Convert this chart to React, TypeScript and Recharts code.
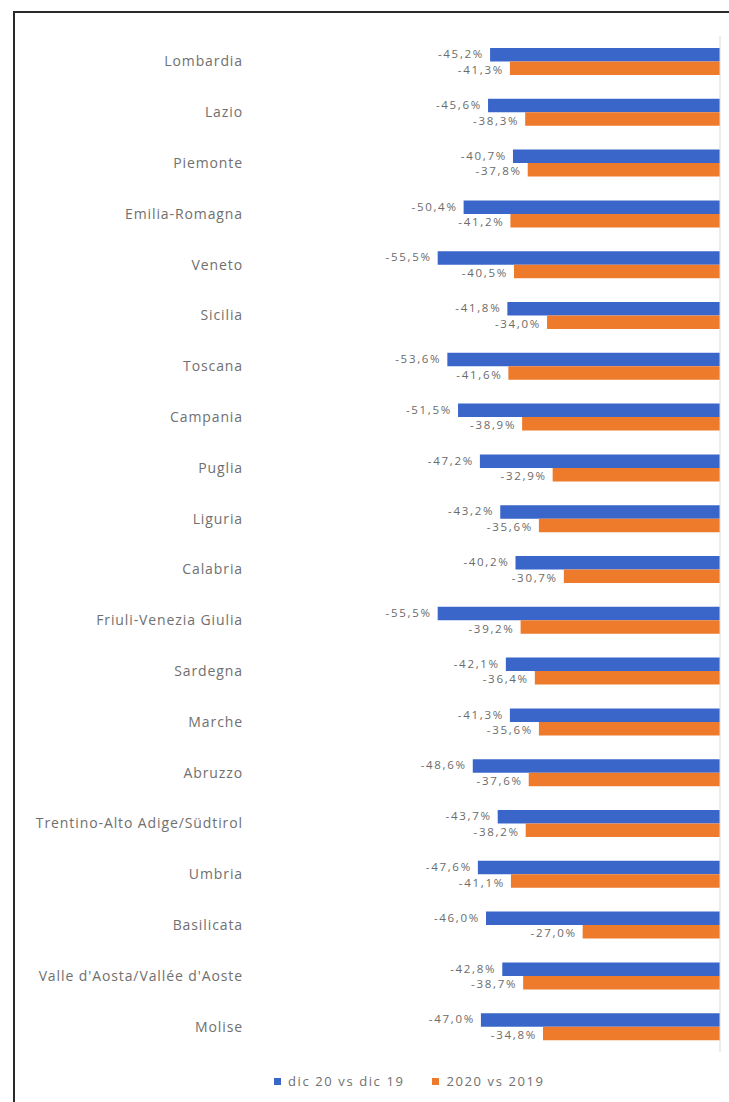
import React from "react";
import { BarChart, Bar, XAxis, YAxis, LabelList, Legend, ReferenceLine } from "recharts";

const regions = [
  "Lombardia",
  "Lazio",
  "Piemonte",
  "Emilia-Romagna",
  "Veneto",
  "Sicilia",
  "Toscana",
  "Campania",
  "Puglia",
  "Liguria",
  "Calabria",
  "Friuli-Venezia Giulia",
  "Sardegna",
  "Marche",
  "Abruzzo",
  "Trentino-Alto Adige/Südtirol",
  "Umbria",
  "Basilicata",
  "Valle d'Aosta/Vallée d'Aoste",
  "Molise",
];

const dic20vsDic19 = [
  -45.2, -45.6, -40.7, -50.4, -55.5, -41.8, -53.6, -51.5, -47.2, -43.2,
  -40.2, -55.5, -42.1, -41.3, -48.6, -43.7, -47.6, -46.0, -42.8, -47.0,
];

const y2020vs2019 = [
  -41.3, -38.3, -37.8, -41.2, -40.5, -34.0, -41.6, -38.9, -32.9, -35.6,
  -30.7, -39.2, -36.4, -35.6, -37.6, -38.2, -41.1, -27.0, -38.7, -34.8,
];

const seriesNames = ["dic 20 vs dic 19", "2020 vs 2019"];
const colors = ["#3A66CA", "#EE7A2C"];

const data = regions.map((name, i) => ({
  name,
  a: dic20vsDic19[i],
  b: y2020vs2019[i],
}));

const FONT = "'Open Sans', 'Liberation Sans', sans-serif";

const fmt = (v: number) => v.toFixed(1).replace(".", ",") + "%";

const makeLabel = (shift: number) => (props: any) => {
  const { x, y, width, height, value } = props;
  const left = Math.min(x, x + width);
  return (
    <text
      x={left - 6}
      y={y + height / 2 + shift}
      textAnchor="end"
      dominantBaseline="central"
      fontSize={11.5}
      letterSpacing={1.7}
      fill="#6b6b6b"
      fontFamily={FONT}
    >
      {fmt(value)}
    </text>
  );
};

const BlueLabel = makeLabel(-1);
const OrangeLabel = makeLabel(1);

const LegendContent = () => (
  <div style={{ display: "flex", alignItems: "center", fontFamily: FONT, fontSize: 13, color: "#707070", letterSpacing: 1.6 }}>
    {seriesNames.map((n, i) => (
      <div key={n} style={{ display: "flex", alignItems: "center", marginRight: 28 }}>
        <span style={{ display: "inline-block", width: 7, height: 7, background: colors[i], marginRight: 7 }} />
        <span>{n}</span>
      </div>
    ))}
  </div>
);

export default function App() {
  return (
    <div style={{ position: "absolute", left: 0, top: 0, width: 729, height: 1102, background: "#fff", overflow: "hidden" }}>
      <div
        style={{
          position: "absolute",
          left: 13,
          top: 11,
          width: 716,
          height: 1091,
          borderLeft: "2px solid #2a2a2a",
          borderTop: "2px solid #2a2a2a",
          boxSizing: "border-box",
        }}
      />
      <div style={{ position: "absolute", left: 0, top: 0 }}>
        <BarChart
          width={729}
          height={1102}
          data={data}
          layout="vertical"
          margin={{ top: 36, right: 9, bottom: 30, left: 0 }}
          barGap={0}
          barSize={13.5}
        >
          <XAxis type="number" domain={[-92, 0]} hide />
          <YAxis
            type="category"
            dataKey="name"
            width={252}
            tickLine={false}
            axisLine={false}
            tickSize={0}
            tickMargin={9}
            interval={0}
            tick={{ fontSize: 14, fill: "#707070", fontFamily: FONT, letterSpacing: 0.9 } as any}
          />
          <ReferenceLine x={0} stroke="#d9d9d9" />
          <Legend
            verticalAlign="bottom"
            content={<LegendContent />}
            wrapperStyle={{ top: 1072, left: 274, width: 340, height: 20 }}
          />
          <Bar dataKey="a" name={seriesNames[0]} fill={colors[0]} isAnimationActive={false}>
            <LabelList dataKey="a" content={<BlueLabel />} />
          </Bar>
          <Bar dataKey="b" name={seriesNames[1]} fill={colors[1]} isAnimationActive={false}>
            <LabelList dataKey="b" content={<OrangeLabel />} />
          </Bar>
        </BarChart>
      </div>
    </div>
  );
}
